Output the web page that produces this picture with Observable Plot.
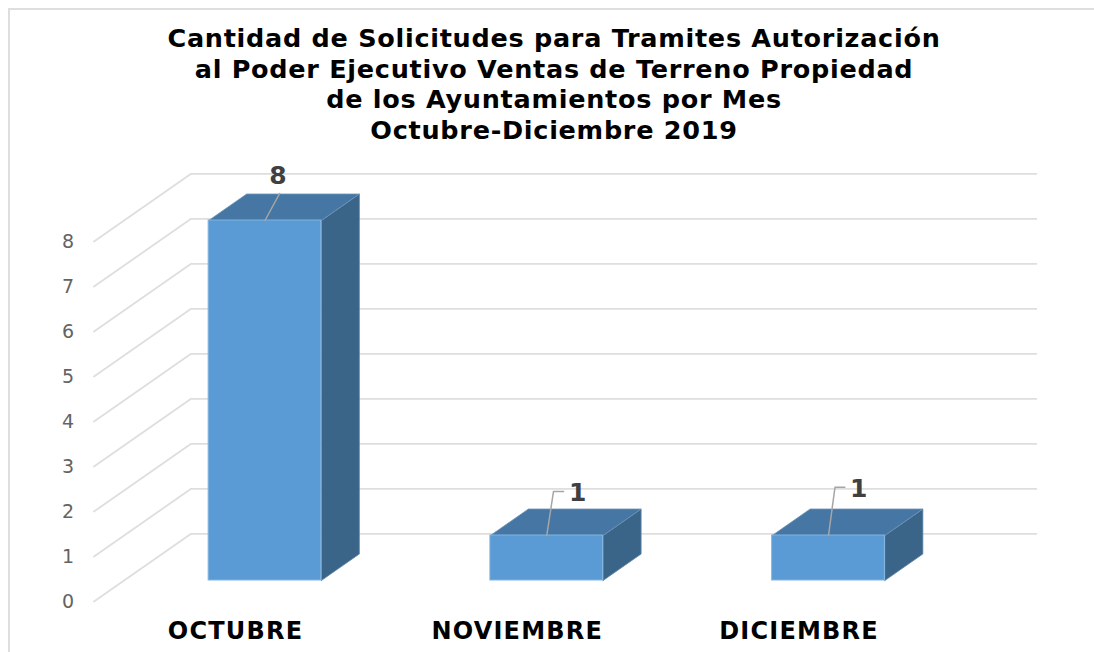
<!DOCTYPE html>
<html lang="es">
<head>
<meta charset="utf-8">
<script src="https://cdn.jsdelivr.net/npm/d3@7"></script>
<script src="https://cdn.jsdelivr.net/npm/@observablehq/plot@0.6"></script>
<style>
  html, body { margin: 0; padding: 0; background: #fff; }
  body { width: 1094px; height: 652px; position: relative; overflow: hidden; font-family: "DejaVu Sans", sans-serif; }
  #frame { position: absolute; left: 8px; top: 8px; right: -4px; bottom: -4px; border: 2px solid #dedede; pointer-events: none; }
  #title { height: 160px; box-sizing: border-box; padding-top: 23px; width: 1108px; text-align: center;
           font-weight: 700; font-size: 25.5px; line-height: 30.7px; color: #000; letter-spacing: 0.72px; }
  svg { display: block; }
  svg g[aria-label="x-axis tick label"] text { letter-spacing: 1.2px; }
</style>
</head>
<body>
<div id="frame"></div>
<div id="title">Cantidad de Solicitudes para Tramites Autorización<br>al Poder Ejecutivo Ventas de Terreno Propiedad<br>de los Ayuntamientos por Mes<br>Octubre-Diciembre 2019</div>
<div id="chart"></div>
<script>
const months = ["OCTUBRE", "NOVIEMBRE", "DICIEMBRE"];
const solicitudes = [8, 1, 1];
const valueTicks = [0, 1, 2, 3, 4, 5, 6, 7, 8];

// Oblique projection of the fake 3D box: one unit of depth moves a point
// right (in category units) and up (in value units).
const skewX = 0.1349, skewY = 0.589;
const project = (c, v, z) => ({x: c + skewX * z, y: v + skewY * z});
const barHalf = 0.2;
const wallFront = -0.793, wallBack = 1.762;
const floorLeft = -0.5, floorRight = 2.5;

// Leader-line bend offsets from the bar top-centre, per bar (category / value units).
const leaderBend = [[0.052, 0.6], [0.024, 0.98], [0.023, 1.07]];
const leaderEnd  = [[0.052, 0.6], [0.06, 0.98], [0.058, 1.07]];
const labelAt    = [[0.046, 0.98], [0.11, 0.95], [0.107, 1.04]];

const bars = months.map((m, i) => ({m, i, v: solicitudes[i]}));

const grid = valueTicks.flatMap(v => [
  {v, ...project(floorLeft, v, wallFront)},
  {v, ...project(floorLeft, v, wallBack)},
  {v, ...project(floorRight, v, wallBack)}
]);

const topFace = bars.flatMap(b => [
  {i: b.i, ...project(b.i - barHalf, b.v, 0)},
  {i: b.i, ...project(b.i + barHalf, b.v, 0)},
  {i: b.i, ...project(b.i + barHalf, b.v, 1)},
  {i: b.i, ...project(b.i - barHalf, b.v, 1)},
  {i: b.i, ...project(b.i - barHalf, b.v, 0)}
]);
const sideFace = bars.flatMap(b => [
  {i: b.i, ...project(b.i + barHalf, 0, 0)},
  {i: b.i, ...project(b.i + barHalf, b.v, 0)},
  {i: b.i, ...project(b.i + barHalf, b.v, 1)},
  {i: b.i, ...project(b.i + barHalf, 0, 1)},
  {i: b.i, ...project(b.i + barHalf, 0, 0)}
]);
const leaders = bars.flatMap(b => [
  {i: b.i, x: b.i, y: b.v},
  {i: b.i, x: b.i + leaderBend[b.i][0], y: b.v + leaderBend[b.i][1]},
  {i: b.i, x: b.i + leaderEnd[b.i][0], y: b.v + leaderEnd[b.i][1]}
]);

const chart = Plot.plot({
  width: 1094, height: 492,
  marginTop: 0, marginRight: 0, marginBottom: 0, marginLeft: 0,
  style: {background: "transparent", overflow: "visible", fontFamily: "'DejaVu Sans', sans-serif"},
  x: {type: "linear", domain: [0, 2], range: [264.5, 828]},
  y: {type: "linear", domain: [0, 8], range: [420, 60]},
  marks: [
    Plot.line(grid, {x: "x", y: "y", z: "v", stroke: "#dedede", strokeWidth: 1.8, curve: "linear"}),
    Plot.axisY(valueTicks, {
      anchor: "left", label: null, tickSize: 0, tickPadding: 0, dx: 67.5, dy: 21,
      textAnchor: "middle", fontSize: 19, fill: "#636363"
    }),
    Plot.axisX([0, 1, 2], {
      anchor: "bottom", label: null, tickSize: 0, tickPadding: 0, dx: -29.5, dy: -21,
      lineAnchor: "middle", tickFormat: i => months[i], fontSize: 24, fontWeight: 700, fill: "#000"
    }),
    Plot.line(sideFace, {x: "x", y: "y", z: "i", fill: "#3a6488", stroke: "#5f86a8", strokeWidth: 0.8, curve: "linear"}),
    Plot.line(topFace, {x: "x", y: "y", z: "i", fill: "#4676a3", stroke: "#6f95b8", strokeWidth: 0.8, curve: "linear"}),
    Plot.rect(bars, {
      x1: d => d.i - barHalf, x2: d => d.i + barHalf, y1: 0, y2: "v",
      fill: "#5b9bd5", stroke: "#82b4e0", strokeWidth: 1, inset: 0
    }),
    Plot.line(leaders, {x: "x", y: "y", z: "i", stroke: "#a6a6a6", strokeWidth: 1.5, curve: "linear"}),
    Plot.text(bars, {
      x: d => d.i + labelAt[d.i][0], y: d => d.v + labelAt[d.i][1], text: d => String(d.v),
      fontSize: 25, fontWeight: 700, fill: "#404040"
    })
  ]
});
document.getElementById("chart").append(chart);
</script>
</body>
</html>
